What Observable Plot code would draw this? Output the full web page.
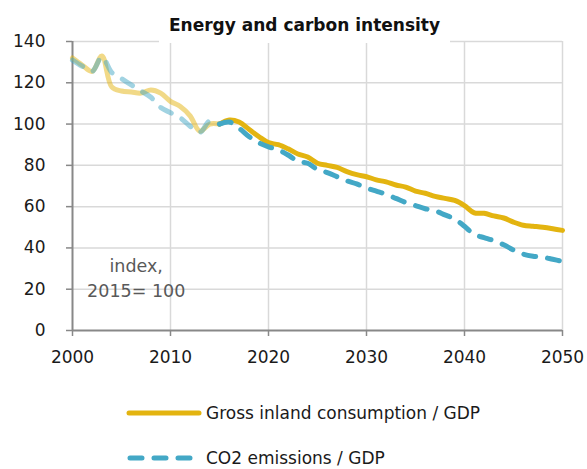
<!DOCTYPE html>
<html>
<head>
<meta charset="utf-8">
<script src="https://cdn.jsdelivr.net/npm/d3@7"></script>
<script src="https://cdn.jsdelivr.net/npm/@observablehq/plot@0.6"></script>
<style>
  body { margin: 0; background: #fff; font-family: "DejaVu Sans", sans-serif; }
  #wrap { position: relative; width: 587px; height: 469px; overflow: hidden; }
  #chart { position: absolute; left: 0; top: 0; }
  #title { position: absolute; left: 159px; top: 13px; width: 291px; height: 30px; background: #fff;
           text-align: center; font-weight: bold; font-size: 17px; color: #111; line-height: 24px; }
  .leg { position: absolute; left: 126px; height: 22px; display: flex; align-items: center; font-size: 17px; color: #1a1a1a; }
  .leg svg { margin-right: 4px; }
</style>
</head>
<body>
<div id="wrap">
  <div id="chart"></div>
  <div id="title">Energy and carbon intensity</div>
  <div class="leg" style="top:402px"><svg width="76" height="10"><line x1="3" y1="5" x2="73" y2="5" stroke="#E3B410" stroke-width="5" stroke-linecap="round"/></svg>Gross inland consumption / GDP</div>
  <div class="leg" style="top:447px"><svg width="76" height="10"><line x1="4" y1="5" x2="70" y2="5" stroke="#43A8C6" stroke-width="5" stroke-linecap="round" stroke-dasharray="12,12"/></svg>CO2 emissions / GDP</div>
</div>
<script>
const years = d3.range(2000, 2051);
const gicValues = [132, 128.5, 125.5, 133, 118, 116, 115.5, 115, 116.5, 115,
  111, 108.5, 104, 96.5, 100, 100, 102, 101, 97.5, 94,
  91, 90, 88, 85.5, 84, 81, 80, 79, 77, 75.5,
  74.5, 73, 72, 70.5, 69.5, 67.5, 66.5, 65, 64, 63,
  60.5, 57, 56.8, 55.5, 54.5, 52.5, 51, 50.5, 50, 49.3, 48.5];
const co2Values = [131, 128, 125.5, 132.5, 125, 122, 119, 116, 113, 108,
  105.5, 103, 99, 96, 101.5, 100, 101, 98, 94, 91,
  89, 87.5, 85, 82, 81, 78, 76.5, 74.5, 72.5, 71,
  69, 67.5, 66, 64, 62, 60.5, 59, 58, 56, 54,
  50.5, 46.5, 45, 43.5, 41.5, 39, 37, 36, 35.5, 34.5, 33.5];
const yTicks = [0, 20, 40, 60, 80, 100, 120, 140];
const xTicks = [2000, 2010, 2020, 2030, 2040, 2050];
const baseYear = 2015;
const noteText = "index,\n2015= 100";

const gic = years.map((y, i) => ({year: y, v: gicValues[i]}));
const co2 = years.map((y, i) => ({year: y, v: co2Values[i]}));
const hist = a => a.filter(d => d.year <= baseYear);
const proj = a => a.filter(d => d.year >= baseYear);

const yellow = "#E3B410", blue = "#43A8C6";

const chart = Plot.plot({
  width: 587, height: 372,
  marginTop: 41, marginLeft: 72, marginRight: 25, marginBottom: 42,
  style: {fontFamily: "DejaVu Sans, sans-serif", fontSize: "17px", color: "#1a1a1a", background: "#fff"},
  x: {domain: [2000, 2050]},
  y: {domain: [0, 140]},
  marks: [
    Plot.gridY(yTicks.filter(t => t > 0), {stroke: "#d9d9d9", strokeOpacity: 1, strokeWidth: 1.5}),
    Plot.gridX(xTicks.filter(t => t > 2000), {stroke: "#d9d9d9", strokeOpacity: 1, strokeWidth: 1.5}),
    Plot.axisY(yTicks, {tickSize: 6, tickPadding: 21, stroke: "#888", strokeWidth: 1.5, fill: "#1a1a1a", label: null, fontSize: 17}),
    Plot.axisX(xTicks, {tickSize: 6, tickPadding: 14, stroke: "#888", strokeWidth: 1.5, fill: "#1a1a1a", label: null, tickFormat: d => String(d), fontSize: 17}),
    Plot.ruleX([2000], {stroke: "#888", strokeWidth: 2}),
    Plot.ruleY([0], {stroke: "#888", strokeWidth: 2}),
    Plot.text([noteText], {x: 2006.5, y: 26, text: d => d, fill: "#595959", fontSize: 17.5, lineHeight: 1.4}),
    Plot.line(hist(gic), {x: "year", y: "v", stroke: yellow, strokeOpacity: 0.5, strokeWidth: 5, curve: "catmull-rom"}),
    Plot.line(hist(co2), {x: "year", y: "v", stroke: blue, strokeOpacity: 0.5, strokeWidth: 5, curve: "catmull-rom", strokeDasharray: "12,12", strokeLinecap: "round"}),
    Plot.line(proj(gic), {x: "year", y: "v", stroke: yellow, strokeWidth: 5, curve: "catmull-rom"}),
    Plot.line(proj(co2), {x: "year", y: "v", stroke: blue, strokeWidth: 5, curve: "catmull-rom", strokeDasharray: "12,12", strokeLinecap: "round"})
  ]
});
document.getElementById("chart").appendChild(chart);
</script>
</body>
</html>
